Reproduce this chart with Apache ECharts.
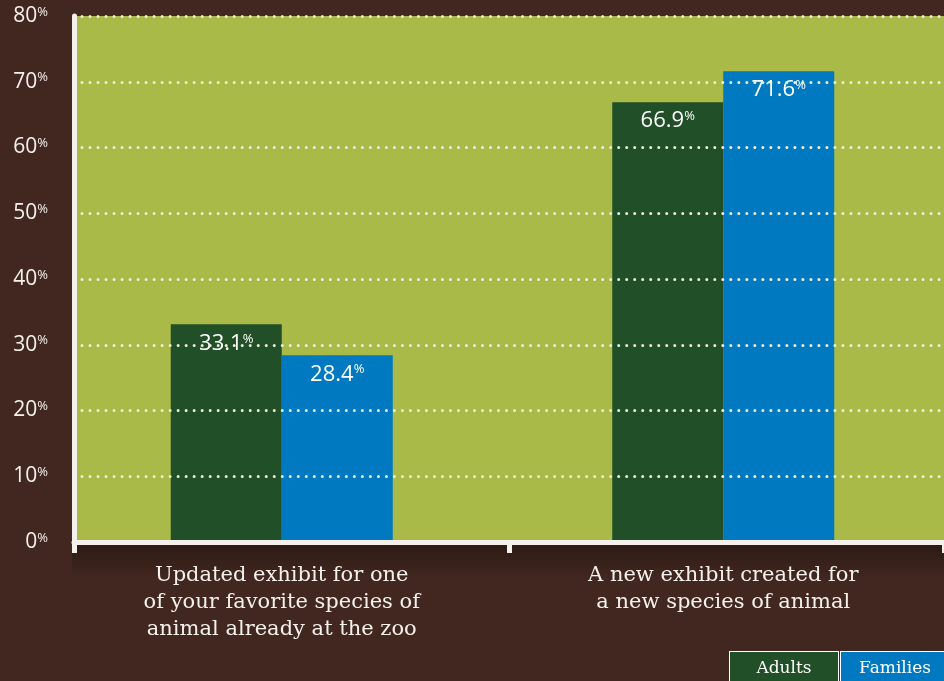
<!DOCTYPE html>
<html>
<head>
<meta charset="utf-8">
<script src="https://cdn.jsdelivr.net/npm/echarts@6/dist/echarts.min.js"></script>
<style>
  html, body { margin: 0; padding: 0; background: #41271f; }
  #chart { width: 944px; height: 681px; }
</style>
</head>
<body>
<div id="chart"></div>
<script>
const categories = [
    'Updated exhibit for one\nof your favorite species of\nanimal already at the zoo',
    'A new exhibit created for\na new species of animal'
];
const seriesNames = ['Adults', 'Families'];
const adultsValues = [33.1, 66.9];
const familiesValues = [28.4, 71.6];
const yTicks = [0, 10, 20, 30, 40, 50, 60, 70, 80];

const colors = ['#214f27', '#0079c1'];
const white = '#f4f1ec';

const chart = echarts.init(document.getElementById('chart'));

const barLabel = {
    show: true,
    position: 'insideTop',
    distance: 8,
    formatter: (p) => '{n|' + p.value.toFixed(1) + '}{p|%}',
    rich: {
        n: { fontFamily: 'Open Sans', fontSize: 22, color: '#ffffff' },
        p: { fontFamily: 'Open Sans', fontSize: 13, color: '#ffffff', verticalAlign: 'top', padding: [0, 0, 8, 0] }
    }
};

const option = {
    backgroundColor: '#41271f',
    animation: false,
    graphic: [
        {
            type: 'rect',
            z: -1,
            shape: { x: 72, y: 544, width: 872, height: 34 },
            style: {
                fill: new echarts.graphic.LinearGradient(0, 0, 0, 1, [
                    { offset: 0, color: '#2d1a15' },
                    { offset: 1, color: '#41271f' }
                ])
            }
        }
    ],
    legend: {
        left: 725,
        top: 651,
        width: 400,
        padding: 0,
        itemGap: -3,
        icon: 'none',
        itemWidth: 0,
        itemHeight: 0,
        selectedMode: false,
        data: seriesNames,
        formatter: (name) => (name === 'Adults' ? '{a|' : '{f|') + name + '}',
        textStyle: {
            rich: {
                a: {
                    backgroundColor: colors[0], borderColor: '#ffffff', borderWidth: 1,
                    width: 108, height: 34, align: 'center', lineHeight: 34,
                    fontFamily: 'DejaVu Serif', fontSize: 17, color: '#ffffff'
                },
                f: {
                    backgroundColor: colors[1], borderColor: '#ffffff', borderWidth: 1,
                    width: 108, height: 34, align: 'center', lineHeight: 34,
                    fontFamily: 'DejaVu Serif', fontSize: 17, color: '#ffffff'
                }
            }
        }
    },
    grid: [
        { left: 74, right: 0, top: 16, bottom: 139, show: true, backgroundColor: '#a9ba48', borderWidth: 0 },
        { left: 61, right: 0, top: 16, bottom: 139 }
    ],
    xAxis: [
        {
            type: 'category',
            gridIndex: 0,
            data: categories,
            axisLine: { show: true, lineStyle: { color: white, width: 5 } },
            axisTick: { show: true, length: 11, lineStyle: { color: white, width: 5 } },
            axisLabel: { show: false },
            z: 5
        },
        {
            type: 'category',
            gridIndex: 1,
            data: categories,
            axisLine: { show: false },
            axisTick: { show: false },
            axisLabel: {
                margin: 20,
                fontFamily: 'DejaVu Serif',
                fontSize: 21,
                lineHeight: 27,
                color: white
            }
        }
    ],
    yAxis: [
        {
            type: 'value',
            gridIndex: 0,
            min: yTicks[0],
            max: yTicks[yTicks.length - 1],
            interval: 10,
            axisLine: { show: true, lineStyle: { color: white, width: 5 } },
            axisTick: { show: false },
            axisLabel: {
                margin: 26,
                formatter: (v) => '{n|' + v + '}{p|%}',
                rich: {
                    n: { fontFamily: 'Open Sans', fontSize: 21, color: white },
                    p: { fontFamily: 'Open Sans', fontSize: 13, color: white, verticalAlign: 'top', padding: [0, 0, 8, 0] }
                }
            },
            splitLine: {
                show: true,
                lineStyle: { color: '#eef0d8', width: 3, type: [0.01, 8], cap: 'round' }
            },
            z: 5
        },
        {
            type: 'value',
            gridIndex: 1,
            min: yTicks[0],
            max: yTicks[yTicks.length - 1],
            show: false
        }
    ],
    series: [
        {
            name: seriesNames[0],
            type: 'bar',
            xAxisIndex: 1,
            yAxisIndex: 1,
            barWidth: 111,
            barGap: 0,
            itemStyle: { color: colors[0] },
            label: barLabel,
            data: adultsValues,
            z: 3
        },
        {
            name: seriesNames[1],
            type: 'bar',
            xAxisIndex: 1,
            yAxisIndex: 1,
            barWidth: 111,
            barGap: 0,
            itemStyle: { color: colors[1] },
            label: barLabel,
            data: familiesValues,
            z: 3
        }
    ]
};

chart.setOption(option);
</script>
</body>
</html>
